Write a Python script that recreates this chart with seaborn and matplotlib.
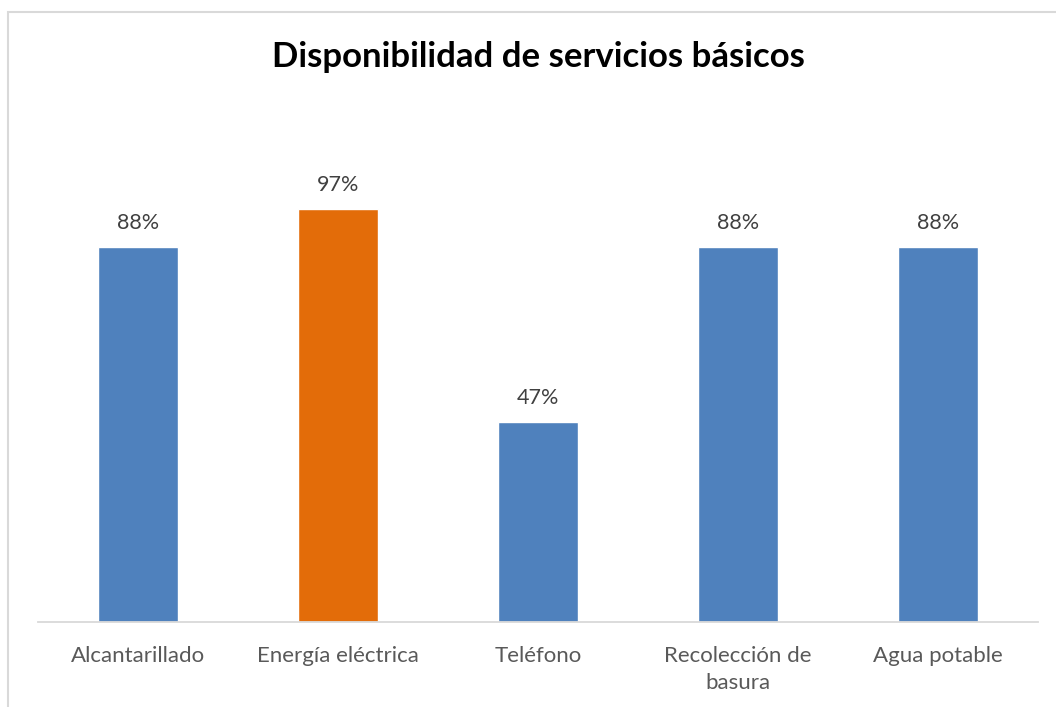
import matplotlib
matplotlib.use("Agg")
import matplotlib.pyplot as plt
from matplotlib.patches import Rectangle
import seaborn as sns
import pandas as pd

categories = ["Alcantarillado", "Energía eléctrica", "Teléfono", "Recolección de\nbasura", "Agua potable"]
values = [88, 97, 47, 88, 88]
bar_colors = ["#4F81BD", "#E36C09", "#4F81BD", "#4F81BD", "#4F81BD"]
title = "Disponibilidad de servicios básicos"

sns.set_theme(style="white")
plt.rcParams["font.family"] = ["Lato", "DejaVu Sans"]

W, H = 1056, 707
fig = plt.figure(figsize=(W / 100, H / 100), dpi=100)
fig.patch.set_facecolor("white")

# chart frame
fig.add_artist(Rectangle((8 / W, -0.1), 1.2, 1 - 12 / H + 0.1, transform=fig.transFigure,
                         fill=False, edgecolor="#D9D9D9", linewidth=1.5))

ax = fig.add_axes([38 / W, (H - 622) / H, 1000 / W, (622 - 113) / H])
df = pd.DataFrame({"cat": categories, "val": values})
sns.barplot(data=df, x="cat", y="val", hue="cat", palette=bar_colors, legend=False,
            width=0.4, saturation=1, ax=ax)
ax.set_xlim(-0.5, len(categories) - 0.5)
ax.set_ylim(0, 119.5)
ax.set_yticks([])
ax.set_xlabel("")
ax.set_ylabel("")
for s in ["top", "right", "left"]:
    ax.spines[s].set_visible(False)
ax.spines["bottom"].set_color("#D9D9D9")
ax.spines["bottom"].set_linewidth(1.3)
ax.tick_params(axis="x", length=0, pad=17, labelsize=16, labelcolor="#595959")
for lbl in ax.get_xticklabels():
    lbl.set_linespacing(1.45)
ax.set_facecolor("white")

for i, v in enumerate(values):
    ax.annotate(f"{v}%", (i, v), xytext=(0, 10), textcoords="offset points",
                ha="center", va="bottom", fontsize=15.5, color="#404040")

fig.text(538 / W, 1 - 57 / H, title, ha="center", va="center", fontsize=25,
         fontweight="bold", color="black")

fig.savefig("out.png", dpi=100)
